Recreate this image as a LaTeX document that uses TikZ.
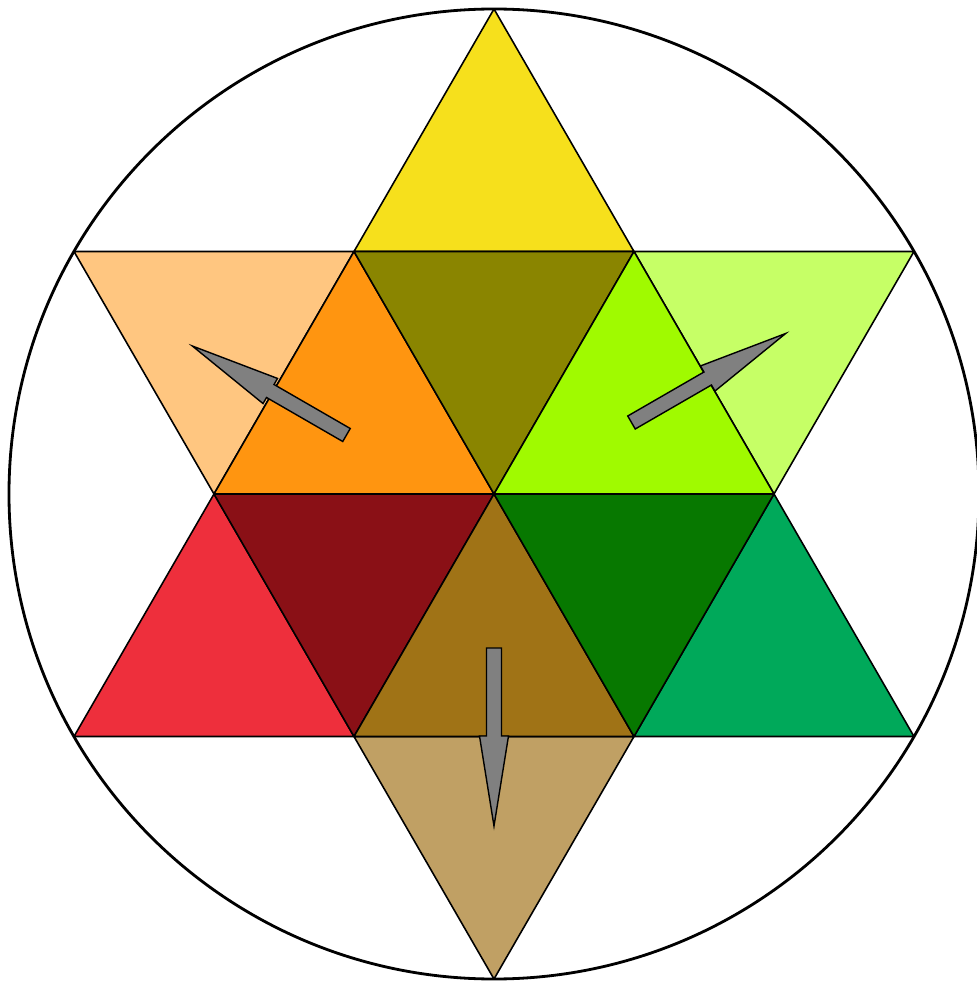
\documentclass[tikz,border=0pt]{standalone}
\usetikzlibrary{calc}
\definecolor{topyel}{HTML}{F6E01C}
\definecolor{ltorange}{HTML}{FFC680}
\definecolor{orange}{HTML}{FF9510}
\definecolor{olive}{HTML}{8A8500}
\definecolor{lime}{HTML}{A0FA00}
\definecolor{ltlime}{HTML}{C6FF66}
\definecolor{red}{HTML}{EE2F3C}
\definecolor{dkred}{HTML}{8A1016}
\definecolor{brown}{HTML}{A07316}
\definecolor{dkgreen}{HTML}{077800}
\definecolor{green}{HTML}{00A95A}
\definecolor{tan}{HTML}{C0A064}
\tikzstyle{tri}=[draw=black, line width=0.45pt, line join=round]
\tikzstyle{gar}=[fill=gray, draw=black, line width=0.4pt, line join=miter]
\newcommand{\garrow}[3]{\filldraw[gar, shift={(#1,#2)}, rotate=#3]
  (0,-0.075)--(0.88,-0.075)--(0.88,-0.145)--(1.78,0)--(0.88,0.145)--(0.88,0.075)--(0,0.075)--cycle;}

\begin{document}
\begin{tikzpicture}
\useasboundingbox (-4.94,-4.90) rectangle (4.83,4.94);
\coordinate (O) at (0,0);
\coordinate (T) at (0,4.85);
\coordinate (B) at (0,-4.85);
\coordinate (L1) at (-4.2,2.425);
\coordinate (R1) at (4.2,2.425);
\coordinate (L2) at (-4.2,-2.425);
\coordinate (R2) at (4.2,-2.425);
\coordinate (a) at (-1.4,2.425);
\coordinate (b) at (1.4,2.425);
\coordinate (c) at (2.8,0);
\coordinate (d) at (1.4,-2.425);
\coordinate (e) at (-1.4,-2.425);
\coordinate (f) at (-2.8,0);
% outer points
\filldraw[tri, fill=topyel] (a)--(b)--(T)--cycle;
\filldraw[tri, fill=ltorange] (L1)--(a)--(f)--cycle;
\filldraw[tri, fill=ltlime] (b)--(R1)--(c)--cycle;
\filldraw[tri, fill=red] (f)--(e)--(L2)--cycle;
\filldraw[tri, fill=green] (c)--(R2)--(d)--cycle;
\filldraw[tri, fill=tan] (e)--(d)--(B)--cycle;
% inner hexagon
\filldraw[tri, fill=orange] (a)--(O)--(f)--cycle;
\filldraw[tri, fill=olive] (a)--(b)--(O)--cycle;
\filldraw[tri, fill=lime] (b)--(c)--(O)--cycle;
\filldraw[tri, fill=dkred] (f)--(O)--(e)--cycle;
\filldraw[tri, fill=brown] (O)--(d)--(e)--cycle;
\filldraw[tri, fill=dkgreen] (O)--(c)--(d)--cycle;
\draw[line width=0.8pt] (O) circle (4.85);
% arrows
\garrow{-1.475}{0.59}{150}
\garrow{1.375}{0.715}{30}
\garrow{0}{-1.54}{-90}
\end{tikzpicture}
\end{document}
